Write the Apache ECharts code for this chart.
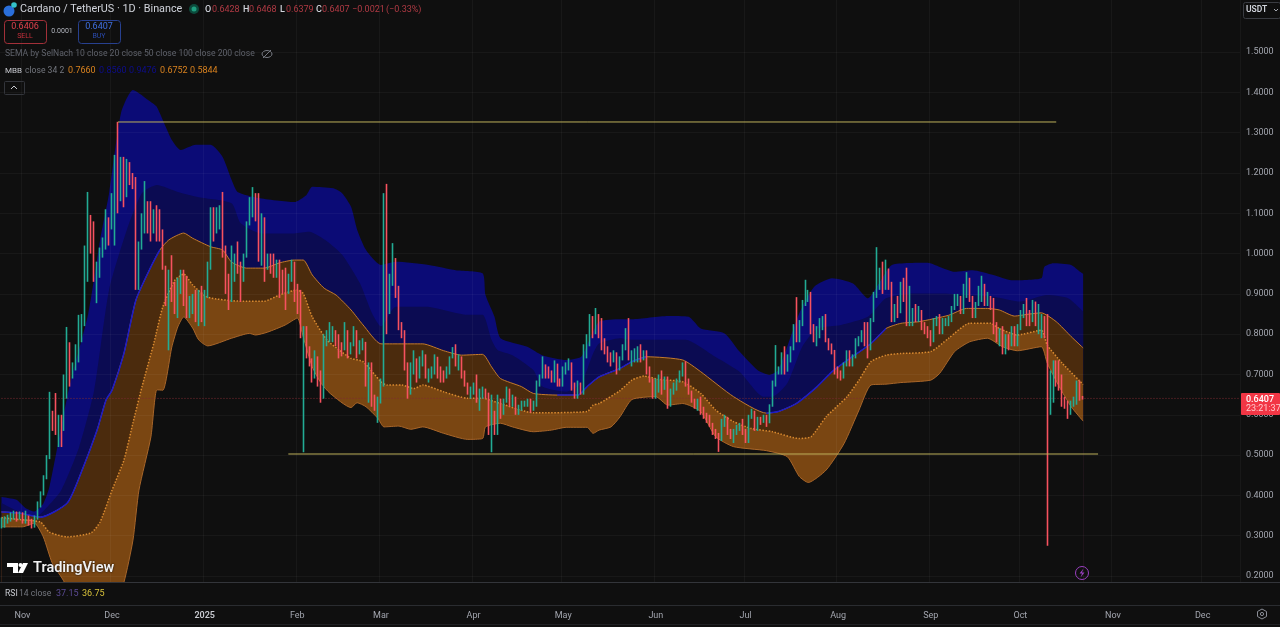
<!DOCTYPE html>
<html><head><meta charset="utf-8">
<style>html,body{margin:0;padding:0;background:#0f0f0f;overflow:hidden}#c{width:1280px;height:627px}</style>
<script src="https://cdn.jsdelivr.net/npm/echarts@6/dist/echarts.min.js"></script>
</head><body><div id="c"></div>
<script>
const firstDay = Date.UTC(2024, 9, 25);
const dayCount = 415;
const yTicks = [0.2,0.3,0.4,0.5,0.6,0.7,0.8,0.9,1.0,1.1,1.2,1.3,1.4,1.5];
const monthNames = ['Jan','Feb','Mar','Apr','May','Jun','Jul','Aug','Sep','Oct','Nov','Dec'];

const closes = [
.325,.335,.342,.348,.352,.344,.35,.34,.346,.335,
.325,.345,.375,.405,.445,.495,.587,.565,.56,.575,
.56,.70,.74,.70,.715,.765,.80,.84,1.016,1.07,
1.04,.94,.96,1.01,1.03,1.075,1.07,1.15,1.20,1.16,
1.165,1.158,1.227,1.2,1.19,1.0,1.02,1.09,1.12,1.09,
1.067,1.10,1.075,1.05,.967,.877,.95,.925,.86,.93,
.95,.90,.855,.89,.89,.85,.90,.85,.90,.975,
1.096,1.07,1.09,1.115,1.01,.93,.90,.98,.99,.97,
.943,.997,1.075,1.14,1.14,1.12,.99,1.09,.985,1.0,
.97,.967,.97,.943,.935,.92,.935,.975,.91,.90,
.80,.815,.753,.735,.70,.745,.68,.65,.78,.795,
.806,.81,.785,.77,.765,.81,.75,.773,.806,.757,
.777,.781,.68,.72,.632,.628,.628,.678,1.138,.855,
.938,.975,.905,.815,.80,.72,.657,.72,.736,.695,
.735,.748,.70,.70,.715,.744,.71,.70,.695,.71,
.74,.752,.725,.74,.703,.678,.653,.667,.673,.637,
.66,.661,.653,.562,.57,.558,.636,.60,.636,.661,
.637,.645,.607,.62,.628,.628,.633,.612,.628,.678,
.695,.72,.707,.703,.695,.727,.686,.678,.711,.72,
.728,.674,.653,.678,.661,.769,.777,.84,.802,.843,
.835,.777,.761,.748,.74,.755,.715,.74,.769,.81,
.744,.745,.76,.765,.74,.757,.711,.686,.653,.655,
.69,.662,.686,.62,.66,.674,.682,.703,.715,.682,
.657,.637,.624,.637,.612,.604,.595,.579,.562,.546,
.542,.587,.591,.562,.546,.562,.566,.575,.562,.537,
.595,.608,.57,.591,.587,.595,.579,.624,.68,.707,
.715,.736,.707,.748,.765,.823,.794,.831,.881,.885,
.905,.815,.794,.81,.835,.835,.79,.777,.761,.715,
.707,.695,.724,.752,.728,.744,.786,.79,.802,.785,
.769,.835,.90,.926,.946,.92,.963,.922,.843,.868,
.852,.93,.91,.835,.835,.855,.843,.86,.82,.815,
.806,.786,.835,.84,.806,.835,.835,.84,.864,.893,
.893,.86,.918,.93,.89,.856,.876,.914,.914,.885,
.889,.877,.818,.80,.81,.765,.79,.78,.81,.794,
.815,.848,.872,.848,.84,.881,.831,.835,.84,.80,
.63,.70,.73,.70,.678,.637,.63,.62,.625,.636,
.674,.6428,.6407];
const highs = [
.345,.348,.352,.358,.362,.36,.36,.358,.362,.35,
.342,.35,.385,.41,.45,.50,.657,.61,.654,.60,
.60,.70,.818,.78,.73,.775,.848,.85,1.02,1.153,
1.096,1.08,.98,1.015,1.04,1.11,1.09,1.15,1.245,1.327,
1.24,1.24,1.235,1.22,1.20,1.19,1.03,1.10,1.18,1.13,
1.13,1.11,1.12,1.11,1.06,.97,.96,.996,.93,.94,
.96,.96,.945,.895,.90,.91,.91,.92,.91,.98,
1.115,1.115,1.115,1.12,1.153,1.02,.95,1.02,1.0,1.03,
.98,1.0,1.08,1.14,1.165,1.15,1.15,1.10,1.03,1.0,
1.0,1.0,.985,.985,.96,.965,.95,.985,.98,.925,
.91,.82,.82,.77,.74,.76,.72,.71,.80,.81,
.83,.82,.81,.80,.78,.83,.81,.78,.82,.81,
.785,.79,.78,.73,.73,.65,.645,.69,1.15,1.173,
.95,1.026,.989,.92,.83,.81,.73,.73,.76,.74,
.745,.76,.75,.715,.72,.75,.74,.72,.71,.72,
.745,.768,.775,.75,.745,.71,.68,.67,.68,.70,
.665,.67,.665,.655,.65,.61,.65,.64,.64,.67,
.665,.65,.645,.625,.635,.635,.64,.64,.635,.685,
.70,.745,.725,.72,.71,.735,.71,.69,.72,.73,
.74,.73,.68,.685,.68,.775,.80,.85,.845,.865,
.85,.84,.79,.77,.755,.76,.755,.745,.775,.815,
.84,.76,.765,.77,.775,.76,.76,.72,.69,.69,
.70,.71,.695,.695,.665,.68,.69,.71,.73,.733,
.69,.66,.64,.64,.645,.62,.605,.60,.58,.565,
.555,.59,.60,.595,.565,.565,.575,.58,.59,.565,
.60,.615,.61,.595,.595,.60,.60,.626,.685,.773,
.72,.755,.77,.75,.77,.825,.892,.835,.885,.935,
.91,.90,.825,.82,.84,.845,.85,.79,.775,.75,
.72,.71,.73,.76,.76,.75,.79,.795,.81,.83,
.83,.84,.905,1.016,.965,.98,.985,.96,.93,.875,
.895,.93,.94,.965,.92,.865,.875,.87,.85,.83,
.82,.81,.84,.845,.85,.84,.84,.845,.87,.90,
.90,.895,.925,.954,.94,.895,.88,.92,.945,.925,
.905,.895,.89,.83,.815,.82,.80,.80,.82,.82,
.825,.86,.875,.89,.86,.885,.87,.875,.85,.845,
.85,.71,.735,.735,.735,.70,.645,.635,.635,.645,
.685,.685,.6468];
const lows = [
.318,.32,.33,.335,.34,.335,.34,.33,.33,.325,
.318,.32,.34,.37,.40,.44,.49,.56,.55,.52,
.52,.57,.64,.67,.69,.71,.73,.78,.82,.93,
1.0,.93,.877,.94,.99,1.01,1.02,1.06,1.02,1.10,
1.13,1.115,1.14,1.17,1.16,.91,.91,1.01,1.05,1.05,
1.03,1.05,1.03,1.03,.96,.87,.76,.88,.85,.84,
.90,.87,.84,.84,.85,.83,.82,.83,.82,.89,
.96,1.03,1.05,1.06,.99,.90,.86,.88,.93,.95,
.88,.93,.99,1.07,1.09,1.08,.98,.97,.93,.96,
.95,.94,.94,.89,.90,.86,.90,.93,.88,.85,
.79,.507,.74,.72,.68,.69,.67,.63,.64,.77,
.78,.78,.77,.74,.745,.76,.74,.75,.77,.74,
.75,.76,.67,.63,.62,.61,.58,.63,.67,.80,
.85,.92,.89,.81,.79,.71,.64,.65,.70,.68,
.69,.72,.69,.68,.69,.70,.69,.68,.68,.69,
.70,.74,.72,.71,.69,.67,.65,.64,.65,.63,
.61,.64,.64,.55,.507,.55,.55,.59,.60,.63,
.62,.62,.60,.60,.61,.62,.62,.605,.61,.62,
.67,.69,.69,.69,.68,.68,.67,.67,.67,.70,
.71,.66,.64,.64,.65,.65,.74,.77,.79,.80,
.79,.76,.75,.73,.72,.73,.70,.71,.735,.76,
.735,.72,.73,.73,.73,.735,.70,.68,.64,.64,
.66,.65,.67,.615,.62,.65,.66,.68,.695,.67,
.65,.63,.615,.61,.60,.59,.58,.57,.55,.54,
.508,.535,.57,.55,.54,.53,.55,.56,.55,.53,
.53,.59,.56,.56,.575,.58,.57,.58,.62,.67,
.70,.70,.70,.72,.73,.76,.78,.78,.82,.87,
.88,.80,.78,.77,.79,.81,.78,.76,.75,.70,
.69,.685,.69,.72,.72,.72,.74,.77,.78,.77,
.74,.76,.83,.89,.91,.90,.91,.91,.83,.83,
.84,.86,.88,.82,.82,.82,.83,.83,.81,.80,
.79,.77,.78,.82,.80,.80,.82,.82,.83,.86,
.87,.85,.85,.89,.88,.84,.84,.87,.88,.87,
.87,.86,.80,.78,.77,.75,.75,.76,.77,.77,
.77,.81,.84,.82,.82,.83,.82,.80,.79,.79,
.275,.60,.63,.67,.66,.62,.615,.59,.60,.62,
.625,.635,.6379];

// Band curves: [day number, price]
const bandOuter = [[0,.396],[5,.389],[8,.369],[11,.36],[14,.38],[16,.42],[20,.57],[23,.679],[29,.85],[33,1.034],[36,1.15],[40,1.349],[44,1.406],[50,1.376],[52,1.364],[55,1.314],[57,1.282],[60,1.257],[65,1.27],[70,1.27],[74,1.24],[77,1.183],[79,1.153],[86,1.138],[98,1.128],[102,1.145],[104,1.166],[111,1.162],[114,1.15],[117,1.116],[119,1.06],[122,1.009],[127,.972],[132,.98],[143,.972],[152,.959],[161,.951],[162,.897],[165,.843],[167,.79],[176,.769],[181,.748],[189,.736],[194,.744],[197,.79],[200,.831],[207,.837],[211,.837],[223,.845],[230,.843],[234,.814],[242,.802],[247,.757],[253,.711],[257,.699],[260,.711],[267,.852],[272,.918],[278,.939],[285,.926],[290,.889],[294,.93],[298,.972],[310,.977],[314,.967],[319,.955],[325,.959],[332,.947],[338,.934],[348,.939],[349,.967],[352,.976],[358,.972],[361,.955],[362,.95]];
const bandInner = [[0,.381],[6,.359],[12,.35],[15,.369],[20,.413],[26,.52],[31,.66],[36,.91],[42,1.06],[47,1.15],[52,1.17],[59,1.153],[66,1.14],[77,1.125],[80,1.076],[87,1.05],[98,1.05],[103,1.054],[109,1.03],[114,.997],[120,.926],[124,.852],[127,.819],[132,.868],[142,.868],[156,.848],[161,.848],[164,.786],[166,.761],[171,.748],[178,.711],[181,.67],[189,.657],[194,.678],[198,.752],[200,.777],[207,.79],[211,.786],[223,.786],[229,.786],[238,.748],[247,.707],[255,.645],[258,.645],[263,.678],[268,.769],[273,.814],[281,.823],[290,.843],[296,.889],[305,.901],[315,.901],[324,.897],[332,.893],[341,.881],[350,.897],[357,.889],[362,.856]];
const bandUpper = [[0,.359],[6,.356],[13,.346],[22,.381],[27,.463],[32,.562],[35,.637],[37,.661],[41,.753],[45,.885],[50,.967],[53,1.009],[56,1.034],[61,1.051],[64,1.038],[70,1.017],[74,1.009],[77,.979],[82,.964],[88,.964],[93,.977],[98,.984],[101,.984],[104,.947],[108,.914],[112,.897],[117,.86],[121,.823],[127,.776],[133,.776],[141,.776],[148,.759],[154,.748],[161,.75],[164,.719],[167,.69],[174,.67],[178,.653],[186,.649],[193,.649],[196,.67],[200,.694],[207,.715],[211,.732],[216,.744],[228,.736],[234,.707],[245,.645],[256,.604],[260,.608],[266,.628],[273,.67],[278,.707],[284,.74],[291,.777],[296,.814],[301,.827],[307,.831],[317,.847],[323,.864],[330,.864],[334,.86],[339,.845],[344,.85],[348,.853],[353,.831],[358,.794],[362,.766]];
const bandMid = [[0,.345],[6,.34],[13,.334],[16,.309],[22,.297],[30,.307],[33,.334],[37,.413],[41,.488],[44,.58],[47,.669],[51,.778],[54,.868],[58,.934],[61,.949],[64,.922],[69,.892],[80,.882],[88,.882],[93,.897],[99,.91],[101,.901],[104,.843],[109,.785],[113,.761],[117,.74],[121,.732],[127,.682],[129,.674],[134,.674],[138,.665],[141,.674],[148,.657],[156,.641],[161,.641],[167,.628],[178,.605],[196,.608],[198,.624],[200,.628],[207,.66],[211,.686],[215,.696],[220,.688],[228,.682],[234,.653],[239,.612],[245,.583],[251,.566],[258,.558],[267,.541],[271,.546],[276,.595],[283,.645],[287,.686],[291,.732],[296,.748],[301,.752],[311,.757],[317,.79],[324,.827],[331,.827],[334,.814],[340,.798],[348,.81],[350,.773],[355,.728],[362,.6752]];
const bandLower = [[0,.322],[7,.322],[11,.331],[14,.297],[17,.232],[21,.185],[25,.10],[30,.06],[35,.08],[38,.13],[41,.185],[44,.289],[46,.413],[50,.545],[52,.662],[54,.661],[57,.768],[59,.818],[61,.843],[64,.815],[66,.786],[69,.771],[77,.79],[83,.802],[85,.798],[89,.805],[95,.823],[99,.84],[101,.793],[104,.719],[107,.678],[110,.653],[117,.618],[119,.63],[122,.62],[126,.591],[128,.57],[133,.572],[137,.564],[141,.57],[148,.554],[156,.539],[161,.541],[162,.57],[167,.579],[171,.57],[178,.558],[184,.562],[189,.569],[196,.569],[198,.554],[200,.562],[204,.57],[207,.595],[211,.638],[219,.645],[223,.624],[228,.628],[234,.608],[239,.546],[245,.521],[256,.511],[263,.496],[267,.447],[270,.432],[276,.463],[282,.529],[287,.612],[291,.674],[296,.676],[301,.68],[311,.686],[314,.703],[319,.757],[324,.781],[330,.79],[335,.769],[340,.759],[348,.769],[350,.728],[354,.67],[358,.62],[362,.5844]];
const upperBlueRanges = [[0,53],[186,216],[256,298]];

const resistanceLine = [[39,1.3266],[353,1.3266]];
const supportLine = [[96,.5027],[367,.5027]];
const lastPrice = .6407;

const titleText = 'Cardano / TetherUS · 1D · Binance';
const sellPrice = '0.6406', buyPrice = '0.6407', spread = '0.0001';
const semaText = 'SEMA by SelNach 10 close 20 close 50 close 100 close 200 close';
const countdown = '23:21:37';

const categories = [], monthLabelByIndex = {};
for (let i = 0; i < dayCount; i++) {
  const d = new Date(firstDay + i * 864e5);
  categories.push(d.toISOString().slice(0, 10));
  if (d.getUTCDate() === 1) monthLabelByIndex[i] = d.getUTCMonth() === 0 ? String(d.getUTCFullYear()) : monthNames[d.getUTCMonth()];
}
const candles = closes.map((c, i) => {
  const o = i === 0 ? .32 : closes[i - 1];
  return [o, c, Math.min(lows[i], o, c), Math.max(highs[i], o, c)];
});

const BG = '#0f0f0f', GRID = 'rgba(255,255,255,0.04)', TXT = '#a3a6af', DIM = '#5f626b';
const FONT = 'Roboto, "Noto Sans", sans-serif';
function area(name, data, color, z) {
  return {name, type:'line', data, z, symbol:'none', silent:true, clip:true, smooth:.2,
    lineStyle:{width:0}, areaStyle:{color, opacity:1, origin:'start'}};
}
function line(name, data, color, width, z, type, smooth) {
  return {name, type:'line', data, z, symbol:'none', silent:true, clip:true, smooth:smooth||0, connectNulls:false,
    lineStyle:{color, width, type:type || 'solid'}};
}
function t(x, y, text, fill, size, extra) {
  return {type:'text', x, y, z:50, silent:true, style:Object.assign(
    {text, fill, font:(extra && extra.w ? extra.w + ' ' : '') + size + 'px ' + FONT, textVerticalAlign:'middle', textAlign:(extra && extra.a) || 'left'},
    extra && extra.style || {})};
}
function r(x, y, w, h, stroke, fill, rad) {
  return {type:'rect', z:49, silent:true, shape:{x:x+.5, y:y+.5, width:w, height:h, r:rad||0}, style:{stroke:stroke||null, fill:fill||'transparent', lineWidth:1}};
}
function hl(y, x1, x2, c) { return {type:'line', z:48, silent:true, shape:{x1, y1:y+.5, x2, y2:y+.5}, style:{stroke:c, lineWidth:1}}; }

const graphics = [
  {type:'circle', z:50, silent:true, shape:{cx:9, cy:11, r:5.5}, style:{fill:'#2a6fdb'}},
  {type:'circle', z:51, silent:true, shape:{cx:14, cy:5, r:2.8}, style:{fill:'#35c2c9'}},
  t(20, 9.5, titleText, '#d1d4dc', 10.8),
  {type:'circle', z:50, silent:true, shape:{cx:194, cy:9, r:5}, style:{fill:'#0c4a3c'}},
  {type:'circle', z:51, silent:true, shape:{cx:194, cy:9, r:2.5}, style:{fill:'#1f9e7f'}},
  t(205, 9.5, 'O', '#d1d4dc', 9, {w:500}), t(212, 9.5, '0.6428', '#b03a44', 9),
  t(243, 9.5, 'H', '#d1d4dc', 9, {w:500}), t(249, 9.5, '0.6468', '#b03a44', 9),
  t(280, 9.5, 'L', '#d1d4dc', 9, {w:500}), t(286, 9.5, '0.6379', '#b03a44', 9),
  t(316, 9.5, 'C', '#d1d4dc', 9, {w:500}), t(322, 9.5, '0.6407', '#b03a44', 9),
  t(352, 9.5, '−0.0021', '#b03a44', 9), t(386, 9.5, '(−0.33%)', '#b03a44', 9),
  r(4, 20, 42, 23, '#a33039', null, 3), t(25, 27, sellPrice, '#e0404c', 9, {a:'center'}), t(25, 36, 'SELL', '#c7303c', 7, {a:'center'}),
  t(62, 31, spread, '#b2b5be', 7, {a:'center'}),
  r(78, 20, 42, 23, '#27408f', null, 3), t(99, 27, buyPrice, '#3f6fe0', 9, {a:'center'}), t(99, 36, 'BUY', '#2a4bb0', 7, {a:'center'}),
  t(5, 54, semaText, DIM, 8.6),
  {type:'ellipse', z:50, silent:true, shape:{cx:267, cy:54, rx:5, ry:3.5}, style:{stroke:'#777a83', fill:'none', lineWidth:1}},
  {type:'line', z:50, silent:true, shape:{x1:263, y1:58, x2:271, y2:50}, style:{stroke:'#777a83', lineWidth:1}},
  t(5, 71, 'MBB', '#c8cad0', 8), t(25, 71, 'close 34 2', '#74777f', 8.6),
  t(68, 71, '0.7660', '#d9821f', 9), t(99, 71, '0.8560', '#0d0d8a', 9), t(129, 71, '0.9476', '#0d0d8a', 9),
  t(160, 71, '0.6752', '#d9821f', 9), t(190, 71, '0.5844', '#d9821f', 9),
  r(4, 81, 20, 13, '#33353b', null, 1),
  {type:'polyline', z:50, silent:true, shape:{points:[[11,89],[14,86],[17,89]]}, style:{stroke:'#c8cad0', fill:'none', lineWidth:1}},
  r(1243, 2, 37, 16, '#3a3c42', null, 2), t(1246, 10, 'USDT', '#d1d4dc', 8.5, {w:600}),
  {type:'polyline', z:50, silent:true, shape:{points:[[1274,9],[1276,11],[1278,9]]}, style:{stroke:'#a3a6af', fill:'none', lineWidth:1}},
  {type:'rect', z:49, silent:true, shape:{x:1241, y:393, width:39, height:22, r:1}, style:{fill:'#f23645'}},
  t(1246, 399.5, lastPrice.toFixed(4), '#ffffff', 9, {w:500}), t(1246, 409, countdown, '#ffc9cd', 9),
  {type:'polygon', z:50, silent:true, shape:{points:[[7,563],[18,563],[18,573],[13,573],[13,567],[7,567]]}, style:{fill:'#ffffff'}},
  {type:'circle', z:50, silent:true, shape:{cx:20.5, cy:565, r:2}, style:{fill:'#ffffff'}},
  {type:'polygon', z:50, silent:true, shape:{points:[[23,563],[28,563],[23,573],[18,573]]}, style:{fill:'#ffffff'}},
  t(33, 568, 'TradingView', '#f2f2f2', 14.5, {w:600, style:{textShadowColor:'#000', textShadowBlur:2}}),
  {type:'circle', z:50, silent:true, shape:{cx:1082, cy:573, r:6.5}, style:{stroke:'#9a3fc0', fill:'none', lineWidth:1}},
  {type:'polygon', z:50, silent:true, shape:{points:[[1083.5,568.5],[1079.5,573.5],[1082,573.5],[1080.5,577.5],[1084.5,572.5],[1082,572.5]]}, style:{fill:'#9a3fc0'}},
  hl(582, 0, 1280, '#33353a'), hl(605, 0, 1280, '#2a2c30'), hl(624, 0, 1280, '#1f2023'),
  t(5, 593.5, 'RSI', '#c8cad0', 8.6), t(19, 593.5, '14 close', '#74777f', 8.6), t(56, 593.5, '37.15', '#5b4a94', 9), t(82, 593.5, '36.75', '#d8c23a', 9),
  {type:'polygon', z:50, silent:true, shape:{points:[[1262,609],[1266.5,611.5],[1266.5,616.5],[1262,619],[1257.5,616.5],[1257.5,611.5]]}, style:{stroke:'#8a8d96', fill:'none', lineWidth:1}},
  {type:'circle', z:50, silent:true, shape:{cx:1262, cy:614, r:1.6}, style:{stroke:'#8a8d96', fill:'none', lineWidth:1}}
];

const inBlue = p => upperBlueRanges.some(s => p[0] >= s[0] && p[0] <= s[1]);
const chart = echarts.init(document.getElementById('c'), null, {renderer:'canvas'});
chart.setOption({
  animation:false,
  backgroundColor:BG,
  grid:{left:0, top:0, width:1240, height:582, containLabel:false},
  xAxis:{type:'category', data:categories, boundaryGap:true, z:6,
    axisLine:{show:false}, axisTick:{show:false},
    splitLine:{show:true, lineStyle:{color:GRID, width:1}, interval:i => i in monthLabelByIndex},
    axisLabel:{interval:i => i in monthLabelByIndex, margin:29, fontSize:9, fontFamily:FONT, color:TXT, hideOverlap:false,
      formatter:(v,i) => { const s = monthLabelByIndex[i] || ''; return /^\d+$/.test(s) ? '{b|'+s+'}' : s; },
      rich:{b:{fontSize:9, fontWeight:600, fontFamily:FONT, color:'#c8cad0'}}}},
  yAxis:{type:'value', position:'right', min:0.1851, max:1.6293, z:6, scale:true,
    axisLine:{show:false}, axisTick:{show:false, customValues:yTicks},
    splitLine:{show:true, lineStyle:{color:GRID, width:1}},
    axisLabel:{customValues:yTicks, margin:6, padding:[3,0,0,0], fontSize:9, fontFamily:FONT, color:TXT, formatter:v => v.toFixed(4)}},
  graphic:graphics,
  series:[
    area('outer band', bandOuter, '#0b0b76', 1),
    area('inner band', bandInner, '#0b0b52', 2),
    area('upper band', bandUpper, '#4b2b0d', 3),
    area('middle band', bandMid, '#7a4612', 4),
    area('lower band', bandLower, BG, 5),
    line('upper line', bandUpper, '#c37a2c', 1, 7, null, .2),
    line('upper line rising', bandUpper.map(p => inBlue(p) ? p : [p[0], null]), '#1a1ac8', 1.5, 7.5, null, .2),
    line('lower line', bandLower, '#a8662a', 1, 7, null, .2),
    line('middle line', bandMid, '#d98a30', 1.5, 7, [1.5,1.6], .2),
    line('last price', [[0,lastPrice],[dayCount-1,lastPrice]], '#7f2a32', 1, 6.5, [1,2]),
    {name:'ADA/USDT', type:'candlestick', data:candles, z:8, barWidth:1, silent:true, clip:true,
      itemStyle:{color:'#22ab94', color0:'#f7525f', borderColor:'#22ab94', borderColor0:'#f7525f', borderWidth:1.6}},
    line('resistance', resistanceLine, '#bdb05a', 1, 9),
    line('support', supportLine, '#bdb05a', 1, 9)
  ]
});
</script></body></html>
